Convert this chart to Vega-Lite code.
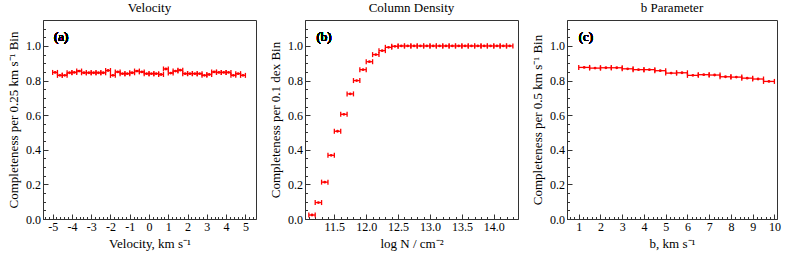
{
  "$schema": "https://vega.github.io/schema/vega-lite/v6.json",
  "padding": {"left": 7, "top": 1, "right": 2, "bottom": 3},
  "background": "white",
  "bounds": "flush",
  "spacing": 49,
  "config": {
    "font": "Liberation Serif",
    "view": {"stroke": "#333", "strokeWidth": 1},
    "title": {"font": "Liberation Serif", "fontSize": 13, "fontWeight": "normal", "offset": 5, "color": "black"},
    "axis": {
      "labelFont": "Liberation Serif", "labelFontSize": 12, "labelColor": "black",
      "titleFont": "Liberation Serif", "titleFontSize": 13, "titleFontWeight": "normal", "titleColor": "black",
      "domainColor": "#333", "tickColor": "#333", "grid": false, "labelOverlap": false, "ticks": true,
      "labelPadding": 7.5
    },
    "axisX": {"titlePadding": 2},
    "axisY": {"titlePadding": 5},
    "tick": {"orient": "vertical", "size": 5, "thickness": 1.3, "color": "red", "opacity": 1},
    "rule": {"color": "red", "strokeWidth": 1.3},
    "point": {"color": "red", "filled": true, "size": 8, "opacity": 1}
  },
  "datasets": {
    "vel": [
      {"lo": -5.0, "hi": -4.75, "x": -4.875, "c": 0.847},
      {"lo": -4.75, "hi": -4.5, "x": -4.625, "c": 0.830},
      {"lo": -4.5, "hi": -4.25, "x": -4.375, "c": 0.830},
      {"lo": -4.25, "hi": -4.0, "x": -4.125, "c": 0.845},
      {"lo": -4.0, "hi": -3.75, "x": -3.875, "c": 0.847},
      {"lo": -3.75, "hi": -3.5, "x": -3.625, "c": 0.855},
      {"lo": -3.5, "hi": -3.25, "x": -3.375, "c": 0.845},
      {"lo": -3.25, "hi": -3.0, "x": -3.125, "c": 0.845},
      {"lo": -3.0, "hi": -2.75, "x": -2.875, "c": 0.845},
      {"lo": -2.75, "hi": -2.5, "x": -2.625, "c": 0.845},
      {"lo": -2.5, "hi": -2.25, "x": -2.375, "c": 0.845},
      {"lo": -2.25, "hi": -2.0, "x": -2.125, "c": 0.858},
      {"lo": -2.0, "hi": -1.75, "x": -1.875, "c": 0.830},
      {"lo": -1.75, "hi": -1.5, "x": -1.625, "c": 0.850},
      {"lo": -1.5, "hi": -1.25, "x": -1.375, "c": 0.840},
      {"lo": -1.25, "hi": -1.0, "x": -1.125, "c": 0.840},
      {"lo": -1.0, "hi": -0.75, "x": -0.875, "c": 0.845},
      {"lo": -0.75, "hi": -0.5, "x": -0.625, "c": 0.855},
      {"lo": -0.5, "hi": -0.25, "x": -0.375, "c": 0.850},
      {"lo": -0.25, "hi": 0.0, "x": -0.125, "c": 0.840},
      {"lo": 0.0, "hi": 0.25, "x": 0.125, "c": 0.840},
      {"lo": 0.25, "hi": 0.5, "x": 0.375, "c": 0.840},
      {"lo": 0.5, "hi": 0.75, "x": 0.625, "c": 0.835},
      {"lo": 0.75, "hi": 1.0, "x": 0.875, "c": 0.867},
      {"lo": 1.0, "hi": 1.25, "x": 1.125, "c": 0.843},
      {"lo": 1.25, "hi": 1.5, "x": 1.375, "c": 0.855},
      {"lo": 1.5, "hi": 1.75, "x": 1.625, "c": 0.860},
      {"lo": 1.75, "hi": 2.0, "x": 1.875, "c": 0.840},
      {"lo": 2.0, "hi": 2.25, "x": 2.125, "c": 0.840},
      {"lo": 2.25, "hi": 2.5, "x": 2.375, "c": 0.840},
      {"lo": 2.5, "hi": 2.75, "x": 2.625, "c": 0.840},
      {"lo": 2.75, "hi": 3.0, "x": 2.875, "c": 0.830},
      {"lo": 3.0, "hi": 3.25, "x": 3.125, "c": 0.835},
      {"lo": 3.25, "hi": 3.5, "x": 3.375, "c": 0.850},
      {"lo": 3.5, "hi": 3.75, "x": 3.625, "c": 0.847},
      {"lo": 3.75, "hi": 4.0, "x": 3.875, "c": 0.847},
      {"lo": 4.0, "hi": 4.25, "x": 4.125, "c": 0.847},
      {"lo": 4.25, "hi": 4.5, "x": 4.375, "c": 0.830},
      {"lo": 4.5, "hi": 4.75, "x": 4.625, "c": 0.840},
      {"lo": 4.75, "hi": 5.0, "x": 4.875, "c": 0.830}
    ],
    "col": [
      {"lo": 11.1, "hi": 11.2, "x": 11.15, "c": 0.023},
      {"lo": 11.2, "hi": 11.3, "x": 11.25, "c": 0.095},
      {"lo": 11.3, "hi": 11.4, "x": 11.35, "c": 0.213},
      {"lo": 11.4, "hi": 11.5, "x": 11.45, "c": 0.368},
      {"lo": 11.5, "hi": 11.6, "x": 11.55, "c": 0.507},
      {"lo": 11.6, "hi": 11.7, "x": 11.65, "c": 0.605},
      {"lo": 11.7, "hi": 11.8, "x": 11.75, "c": 0.723},
      {"lo": 11.8, "hi": 11.9, "x": 11.85, "c": 0.800},
      {"lo": 11.9, "hi": 12.0, "x": 11.95, "c": 0.863},
      {"lo": 12.0, "hi": 12.1, "x": 12.05, "c": 0.909},
      {"lo": 12.1, "hi": 12.2, "x": 12.15, "c": 0.950},
      {"lo": 12.2, "hi": 12.3, "x": 12.25, "c": 0.973},
      {"lo": 12.3, "hi": 12.4, "x": 12.35, "c": 0.992},
      {"lo": 12.4, "hi": 12.5, "x": 12.45, "c": 0.998},
      {"lo": 12.5, "hi": 12.6, "x": 12.55, "c": 1.0},
      {"lo": 12.6, "hi": 12.7, "x": 12.65, "c": 1.0},
      {"lo": 12.7, "hi": 12.8, "x": 12.75, "c": 1.0},
      {"lo": 12.8, "hi": 12.9, "x": 12.85, "c": 1.0},
      {"lo": 12.9, "hi": 13.0, "x": 12.95, "c": 1.0},
      {"lo": 13.0, "hi": 13.1, "x": 13.05, "c": 1.0},
      {"lo": 13.1, "hi": 13.2, "x": 13.15, "c": 1.0},
      {"lo": 13.2, "hi": 13.3, "x": 13.25, "c": 1.0},
      {"lo": 13.3, "hi": 13.4, "x": 13.35, "c": 1.0},
      {"lo": 13.4, "hi": 13.5, "x": 13.45, "c": 1.0},
      {"lo": 13.5, "hi": 13.6, "x": 13.55, "c": 1.0},
      {"lo": 13.6, "hi": 13.7, "x": 13.65, "c": 1.0},
      {"lo": 13.7, "hi": 13.8, "x": 13.75, "c": 1.0},
      {"lo": 13.8, "hi": 13.9, "x": 13.85, "c": 1.0},
      {"lo": 13.9, "hi": 14.0, "x": 13.95, "c": 1.0},
      {"lo": 14.0, "hi": 14.1, "x": 14.05, "c": 1.0},
      {"lo": 14.1, "hi": 14.2, "x": 14.15, "c": 1.0},
      {"lo": 14.2, "hi": 14.3, "x": 14.25, "c": 1.0}
    ],
    "bpar": [
      {"lo": 1.0, "hi": 1.5, "x": 1.25, "c": 0.876},
      {"lo": 1.5, "hi": 2.0, "x": 1.75, "c": 0.872},
      {"lo": 2.0, "hi": 2.5, "x": 2.25, "c": 0.874},
      {"lo": 2.5, "hi": 3.0, "x": 2.75, "c": 0.874},
      {"lo": 3.0, "hi": 3.5, "x": 3.25, "c": 0.868},
      {"lo": 3.5, "hi": 4.0, "x": 3.75, "c": 0.863},
      {"lo": 4.0, "hi": 4.5, "x": 4.25, "c": 0.863},
      {"lo": 4.5, "hi": 5.0, "x": 4.75, "c": 0.857},
      {"lo": 5.0, "hi": 5.5, "x": 5.25, "c": 0.843},
      {"lo": 5.5, "hi": 6.0, "x": 5.75, "c": 0.845},
      {"lo": 6.0, "hi": 6.5, "x": 6.25, "c": 0.830},
      {"lo": 6.5, "hi": 7.0, "x": 6.75, "c": 0.834},
      {"lo": 7.0, "hi": 7.5, "x": 7.25, "c": 0.832},
      {"lo": 7.5, "hi": 8.0, "x": 7.75, "c": 0.822},
      {"lo": 8.0, "hi": 8.5, "x": 8.25, "c": 0.820},
      {"lo": 8.5, "hi": 9.0, "x": 8.75, "c": 0.814},
      {"lo": 9.0, "hi": 9.5, "x": 9.25, "c": 0.809},
      {"lo": 9.5, "hi": 10.0, "x": 9.75, "c": 0.795}
    ]
  },
  "hconcat": [
    {
      "width": 213, "height": 199,
      "title": "Velocity",
      "data": {"name": "vel"},
      "layer": [
        {
          "mark": {"type": "rule"},
          "encoding": {
            "x": {"field": "lo", "type": "quantitative", "scale": {"domain": [-5.5, 5.55], "nice": false, "zero": false},
              "axis": {"title": "Velocity, km s⁻¹", "labelOverlap": false, "ticks": true, "tickCount": 500,
                "values": [-5.4,-5.2,-5,-4.8,-4.6,-4.4,-4.2,-4,-3.8,-3.6,-3.4,-3.2,-3,-2.8,-2.6,-2.4,-2.2,-2,-1.8,-1.6,-1.4,-1.2,-1,-0.8,-0.6,-0.4,-0.2,0,0.2,0.4,0.6,0.8,1,1.2,1.4,1.6,1.8,2,2.2,2.4,2.6,2.8,3,3.2,3.4,3.6,3.8,4,4.2,4.4,4.6,4.8,5,5.2,5.4],
                "labelExpr": "abs(datum.value - round(datum.value)) < 0.001 ? '' + round(datum.value) : ''",
                "tickSize": {"condition": {"test": "abs(datum.value - round(datum.value)) < 0.001", "value": -5}, "value": -2.5}}},
            "x2": {"field": "hi"},
            "y": {"field": "c", "type": "quantitative", "scale": {"domain": [0, 1.15], "nice": false},
              "axis": {"title": "Completeness per 0.25 km s⁻¹ Bin", "labelOverlap": false, "ticks": true, "tickCount": 500,
                "values": [0,0.05,0.1,0.15,0.2,0.25,0.3,0.35,0.4,0.45,0.5,0.55,0.6,0.65,0.7,0.75,0.8,0.85,0.9,0.95,1.0,1.05,1.1],
                "labelExpr": "abs(datum.value*5 - round(datum.value*5)) < 0.001 ? format(datum.value, '.1f') : ''",
                "tickSize": {"condition": {"test": "abs(datum.value*5 - round(datum.value*5)) < 0.001", "value": -5}, "value": -2.5}}}
          }
        },
        {"mark": {"type": "tick"}, "encoding": {"x": {"field": "lo", "type": "quantitative"}, "y": {"field": "c", "type": "quantitative"}}},
        {"mark": {"type": "tick"}, "encoding": {"x": {"field": "hi", "type": "quantitative"}, "y": {"field": "c", "type": "quantitative"}}},
        {"mark": {"type": "point"}, "encoding": {"x": {"field": "x", "type": "quantitative"}, "y": {"field": "c", "type": "quantitative"}}},
        {
          "mark": {"type": "text", "align": "left", "baseline": "middle", "fontSize": 13, "font": "Liberation Serif", "fontWeight": "normal", "color": "black"},
          "encoding": {"x": {"datum": -4.93}, "y": {"datum": 1.054}, "text": {"value": "(a)"}}
        }
      ]
    },
    {
      "width": 213, "height": 199,
      "title": "Column Density",
      "data": {"name": "col"},
      "layer": [
        {
          "mark": {"type": "rule"},
          "encoding": {
            "x": {"field": "lo", "type": "quantitative", "scale": {"domain": [11.04, 14.38], "nice": false, "zero": false},
              "axis": {"title": "log N / cm⁻²", "labelOverlap": false, "ticks": true, "tickCount": 500,
                "values": [11.1,11.2,11.3,11.4,11.5,11.6,11.7,11.8,11.9,12.0,12.1,12.2,12.3,12.4,12.5,12.6,12.7,12.8,12.9,13.0,13.1,13.2,13.3,13.4,13.5,13.6,13.7,13.8,13.9,14.0,14.1,14.2,14.3],
                "labelExpr": "abs(datum.value*2 - round(datum.value*2)) < 0.001 ? format(datum.value, '.1f') : ''",
                "tickSize": {"condition": {"test": "abs(datum.value*2 - round(datum.value*2)) < 0.001", "value": -5}, "value": -2.5}}},
            "x2": {"field": "hi"},
            "y": {"field": "c", "type": "quantitative", "scale": {"domain": [0, 1.15], "nice": false},
              "axis": {"title": "Completeness per 0.1 dex Bin", "labelOverlap": false, "ticks": true, "tickCount": 500,
                "values": [0,0.05,0.1,0.15,0.2,0.25,0.3,0.35,0.4,0.45,0.5,0.55,0.6,0.65,0.7,0.75,0.8,0.85,0.9,0.95,1.0,1.05,1.1],
                "labelExpr": "abs(datum.value*5 - round(datum.value*5)) < 0.001 ? format(datum.value, '.1f') : ''",
                "tickSize": {"condition": {"test": "abs(datum.value*5 - round(datum.value*5)) < 0.001", "value": -5}, "value": -2.5}}}
          }
        },
        {"mark": {"type": "tick"}, "encoding": {"x": {"field": "lo", "type": "quantitative"}, "y": {"field": "c", "type": "quantitative"}}},
        {"mark": {"type": "tick"}, "encoding": {"x": {"field": "hi", "type": "quantitative"}, "y": {"field": "c", "type": "quantitative"}}},
        {"mark": {"type": "point"}, "encoding": {"x": {"field": "x", "type": "quantitative"}, "y": {"field": "c", "type": "quantitative"}}},
        {
          "mark": {"type": "text", "align": "left", "baseline": "middle", "fontSize": 13, "font": "Liberation Serif", "fontWeight": "normal", "color": "black"},
          "encoding": {"x": {"datum": 11.22}, "y": {"datum": 1.054}, "text": {"value": "(b)"}}
        }
      ]
    },
    {
      "width": 210, "height": 199,
      "title": "b Parameter",
      "data": {"name": "bpar"},
      "layer": [
        {
          "mark": {"type": "rule"},
          "encoding": {
            "x": {"field": "lo", "type": "quantitative", "scale": {"domain": [0.46, 10.12], "nice": false, "zero": false},
              "axis": {"title": "b, km s⁻¹", "labelOverlap": false, "ticks": true, "tickCount": 500,
                "values": [0.6,0.8,1,1.2,1.4,1.6,1.8,2,2.2,2.4,2.6,2.8,3,3.2,3.4,3.6,3.8,4,4.2,4.4,4.6,4.8,5,5.2,5.4,5.6,5.8,6,6.2,6.4,6.6,6.8,7,7.2,7.4,7.6,7.8,8,8.2,8.4,8.6,8.8,9,9.2,9.4,9.6,9.8,10],
                "labelExpr": "abs(datum.value - round(datum.value)) < 0.001 ? '' + round(datum.value) : ''",
                "tickSize": {"condition": {"test": "abs(datum.value - round(datum.value)) < 0.001", "value": -5}, "value": -2.5}}},
            "x2": {"field": "hi"},
            "y": {"field": "c", "type": "quantitative", "scale": {"domain": [0, 1.15], "nice": false},
              "axis": {"title": "Completeness per 0.5 km s⁻¹ Bin", "labelOverlap": false, "ticks": true, "tickCount": 500,
                "values": [0,0.05,0.1,0.15,0.2,0.25,0.3,0.35,0.4,0.45,0.5,0.55,0.6,0.65,0.7,0.75,0.8,0.85,0.9,0.95,1.0,1.05,1.1],
                "labelExpr": "abs(datum.value*5 - round(datum.value*5)) < 0.001 ? format(datum.value, '.1f') : ''",
                "tickSize": {"condition": {"test": "abs(datum.value*5 - round(datum.value*5)) < 0.001", "value": -5}, "value": -2.5}}}
          }
        },
        {"mark": {"type": "tick"}, "encoding": {"x": {"field": "lo", "type": "quantitative"}, "y": {"field": "c", "type": "quantitative"}}},
        {"mark": {"type": "tick"}, "encoding": {"x": {"field": "hi", "type": "quantitative"}, "y": {"field": "c", "type": "quantitative"}}},
        {"mark": {"type": "point"}, "encoding": {"x": {"field": "x", "type": "quantitative"}, "y": {"field": "c", "type": "quantitative"}}},
        {
          "mark": {"type": "text", "align": "left", "baseline": "middle", "fontSize": 13, "font": "Liberation Serif", "fontWeight": "normal", "color": "black"},
          "encoding": {"x": {"datum": 1.0}, "y": {"datum": 1.054}, "text": {"value": "(c)"}}
        }
      ]
    }
  ]
}
